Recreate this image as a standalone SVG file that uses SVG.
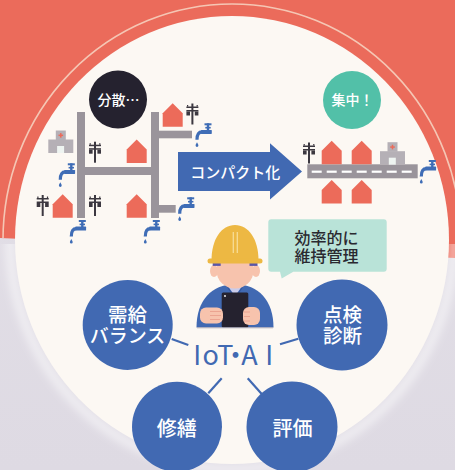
<svg xmlns="http://www.w3.org/2000/svg" width="455" height="470" viewBox="0 0 455 470">
  <defs>
    <style>
      .road{fill:#9A949B}
      .house{fill:#EC6B5A}
      .tap{fill:#3F6DB6}
      .pole{fill:#3C3840}
      .disc{fill:#4169B2}
      .skin{fill:#F7C3AD}
      .jp{font-family:"Noto Sans CJK JP","Noto Sans",sans-serif}
      .white{fill:#FFFFFF;text-anchor:middle}
      .link{stroke:#4169B2;stroke-width:2.2;fill:none}
    </style>
    <path id="house" d="M0,10 L10,0 L20,10 V23.5 H0 Z"/>
    <g id="pole">
      <rect x="-1" y="0" width="2" height="21"/>
      <rect x="-6" y="3" width="12" height="1.5"/>
      <rect x="-6" y="6.5" width="12" height="1.5"/>
      <rect x="-6" y="8" width="3.6" height="4"/>
      <rect x="2.4" y="8" width="3.6" height="4"/>
      <rect x="-5.4" y="1.5" width="1.2" height="1.6"/>
      <rect x="4.2" y="1.5" width="1.2" height="1.6"/>
    </g>
    <g id="tap">
      <rect x="9.5" y="0" width="7" height="2"/>
      <rect x="11.8" y="0" width="2.4" height="8"/>
      <rect x="10.3" y="3.6" width="5.4" height="1.6"/>
      <rect x="6" y="6.6" width="10.8" height="4" rx="0.6"/>
      <path d="M7,8.6 C3.5,8.6 2,11 2,16.5" fill="none" stroke="#3F6DB6" stroke-width="3.2"/>
      <path d="M2,19 C2.7,20.5 3.4,21.2 3.4,22.2 A1.4,1.4 0 0 1 0.6,22.2 C0.6,21.2 1.3,20.5 2,19 Z"/>
    </g>
    <g id="hospital">
      <rect x="7.5" y="0" width="10" height="9.5" fill="#B5B0B6"/>
      <rect x="0" y="9" width="25" height="13.5" fill="#B5B0B6"/>
      <rect x="8.8" y="15.5" width="7" height="7" fill="#EEF4F1"/>
      <rect x="10.2" y="4.1" width="4.6" height="1.5" fill="#EC6B5A"/>
      <rect x="11.75" y="2.55" width="1.5" height="4.6" fill="#EC6B5A"/>
    </g>
    <linearGradient id="floor" x1="0" y1="0" x2="0" y2="1">
      <stop offset="0" stop-color="#E4E1E8"/>
      <stop offset="1" stop-color="#DEDAE3"/>
    </linearGradient>
    <filter id="soft" x="-20%" y="-20%" width="140%" height="140%">
      <feGaussianBlur stdDeviation="4"/>
    </filter>
    <clipPath id="lower"><rect x="0" y="244" width="455" height="226"/></clipPath>
    <clipPath id="upper"><path d="M0,0 H455 V258 L0,238 Z"/></clipPath>
  </defs>

  <!-- backdrop: coral sky and pale floor -->
  <rect width="455" height="470" fill="url(#floor)"/>
  <path d="M0,0 H455 V258 L0,238 Z" fill="#EB6B5B"/>
  <ellipse cx="232" cy="240" rx="229" ry="236" fill="none" stroke="#F5C6B4" stroke-width="1.6" clip-path="url(#upper)"/>
  <ellipse cx="232" cy="240" rx="222" ry="229" fill="none" stroke="#FFFFFF" stroke-opacity="0.55" stroke-width="9" filter="url(#soft)" clip-path="url(#lower)"/>
  <ellipse cx="232" cy="240" rx="217" ry="224" fill="#FCF8F3"/>

  <!-- scattered town -->
  <g id="town-scattered">
    <rect class="road" x="77" y="112" width="8" height="106"/>
    <rect class="road" x="151" y="112" width="8" height="106"/>
    <rect class="road" x="85" y="167" width="66" height="8"/>
    <rect class="road" x="159" y="130.7" width="33" height="7.6"/>
    <rect class="road" x="159" y="205" width="16.7" height="7.7"/>
    <use href="#house" class="house" x="162.7" y="103.3"/>
    <use href="#house" class="house" x="126.7" y="139.5"/>
    <use href="#house" class="house" x="52.7" y="194.2"/>
    <use href="#house" class="house" x="126.7" y="194.2"/>
    <use href="#hospital" x="48.3" y="130.5"/>
    <use href="#pole" class="pole" x="95" y="141.7"/>
    <use href="#pole" class="pole" x="192.4" y="103.5"/>
    <use href="#pole" class="pole" x="42.7" y="195"/>
    <use href="#pole" class="pole" x="95" y="195"/>
    <use href="#tap" class="tap" x="58.3" y="163.3"/>
    <use href="#tap" class="tap" x="195" y="123.3"/>
    <use href="#tap" class="tap" x="69.3" y="220"/>
    <use href="#tap" class="tap" x="143.3" y="220"/>
    <use href="#tap" class="tap" x="177.7" y="197.3"/>
  </g>

  <g id="tag-scattered">
    <circle cx="118" cy="99.5" r="29" fill="#25222F"/>
    <text class="jp white" x="118.5" y="105" font-size="14" font-weight="500">分散…</text>
  </g>

  <g id="tag-compact">
    <circle cx="352" cy="100" r="29" fill="#52C0A8"/>
    <text class="jp white" x="352.5" y="105" font-size="14" font-weight="500">集中！</text>
  </g>

  <!-- compaction arrow -->
  <g id="arrow-compact">
    <path d="M178,152 H270 V143.3 L302,171.5 L270,199.5 V191 H178 Z" fill="#4169B2"/>
    <text class="jp white" x="235.3" y="177.5" font-size="15" font-weight="500">コンパクト化</text>
  </g>

  <!-- compact town -->
  <g id="town-compact">
    <rect class="road" x="307.3" y="164.3" width="110.4" height="14"/>
    <g fill="#FFFFFF">
      <rect x="311.7" y="170.6" width="10" height="2.2"/>
      <rect x="326.7" y="170.6" width="10" height="2.2"/>
      <rect x="341.7" y="170.6" width="10" height="2.2"/>
      <rect x="356.7" y="170.6" width="10" height="2.2"/>
      <rect x="371.7" y="170.6" width="10" height="2.2"/>
      <rect x="386.7" y="170.6" width="10" height="2.2"/>
      <rect x="401.7" y="170.6" width="10" height="2.2"/>
    </g>
    <use href="#house" class="house" x="321.7" y="140.8"/>
    <use href="#house" class="house" x="351.7" y="140.8"/>
    <use href="#house" class="house" x="321.7" y="180"/>
    <use href="#house" class="house" x="351.7" y="180"/>
    <use href="#hospital" x="380" y="142.2"/>
    <use href="#pole" class="pole" x="309" y="142.5"/>
    <use href="#tap" class="tap" x="419.3" y="160"/>
  </g>

  <!-- speech bubble -->
  <g id="bubble">
    <path d="M271.3,219.3 H383.7 Q386.7,219.3 386.7,222.3 V268.7 Q386.7,271.7 383.7,271.7 H293.3 L281.7,278.5 L280,271.7 H271.3 Q268.3,271.7 268.3,268.7 V222.3 Q268.3,219.3 271.3,219.3 Z" fill="#B9E3D8"/>
    <text class="jp" x="294.5" y="244" font-size="16" font-weight="500" fill="#2A2930">効率的に</text>
    <text class="jp" x="294.5" y="262" font-size="16" font-weight="500" fill="#2A2930">維持管理</text>
  </g>

  <!-- worker with tablet -->
  <g id="worker">
    <path d="M196.5,327.5 C196.5,301 211,284.5 235,284 C259,284.5 273.5,301 273.5,327.5 Z" fill="#4169B2"/>
    <rect x="229" y="278" width="12" height="10" fill="#F2B8A2"/>
    <path d="M227,285 L235,296 L243,285 Z" fill="#C9CBEA"/>
    <path d="M226,284.5 L232,294 M244,284.5 L238,294" stroke="#36579E" stroke-width="1.2" fill="none"/>
    <ellipse class="skin" cx="214" cy="271" rx="4" ry="6"/>
    <ellipse class="skin" cx="256" cy="271" rx="4" ry="6"/>
    <ellipse class="skin" cx="235" cy="270.5" rx="18.5" ry="18"/>
    <rect x="212.7" y="262.3" width="8" height="3.6" fill="#5A56A8"/>
    <rect x="249.5" y="262.3" width="8" height="3.6" fill="#5A56A8"/>
    <path d="M211.5,260.5 C211.5,239 221.5,225 235,225 C248.5,225 258.5,239 258.5,260.5 Z" fill="#EDB843"/>
    <rect x="207.5" y="258.5" width="55" height="5" rx="2.5" fill="#EDB843"/>
    <path d="M233.3,232 V253 M237.3,232 V253" stroke="#F7DC95" stroke-width="1.3"/>
    <rect x="221.7" y="292.5" width="26.6" height="35" rx="1.5" fill="#25222F"/>
    <circle cx="225" cy="296" r="0.9" fill="#FFFFFF"/>
    <rect class="skin" x="200" y="307.5" width="23" height="16" rx="6"/>
    <path d="M210,311.5 H221 M210,315.5 H221 M210,319.5 H220" stroke="#E79C8A" stroke-width="0.8" fill="none"/>
    <rect class="skin" x="243" y="307" width="17" height="18" rx="6"/>
    <path d="M244,312 H250 M244,316.5 H250 M244,321 H250" stroke="#E79C8A" stroke-width="0.8" fill="none"/>
    <path d="M197,327.8 H273" stroke="#B3AEB8" stroke-width="1"/>
  </g>

  <!-- connectors -->
  <g id="connectors">
    <path class="link" d="M171.7,339 L188.3,345"/>
    <path class="link" d="M280,344.3 L298.3,338.7"/>
    <path class="link" d="M221.7,378.3 L208.3,393.3"/>
    <path class="link" d="M247.7,378.3 L261.7,394"/>
  </g>

  <g id="hub">
    <text class="jp" x="193.3 202.5 217.2 222 241.3 265.3" y="365" font-size="27" fill="#4169B2">IoT・AI</text>
  </g>

  <g id="node-balance">
    <circle class="disc" cx="127.7" cy="325" r="45"/>
    <text class="jp white" x="127.5" y="322" font-size="19.5" font-weight="500">需給</text>
    <text class="jp white" x="127.5" y="343" font-size="19" font-weight="500">バランス</text>
  </g>
  <g id="node-inspect">
    <circle class="disc" cx="342" cy="325" r="45.5"/>
    <text class="jp white" x="342.5" y="322" font-size="19.5" font-weight="500">点検</text>
    <text class="jp white" x="342.5" y="343" font-size="19.5" font-weight="500">診断</text>
  </g>
  <g id="node-repair">
    <circle class="disc" cx="177" cy="426.7" r="45"/>
    <text class="jp white" x="176.7" y="435.5" font-size="20" font-weight="500">修繕</text>
  </g>
  <g id="node-evaluate">
    <circle class="disc" cx="292" cy="427" r="45.5"/>
    <text class="jp white" x="292.5" y="435.5" font-size="20" font-weight="500">評価</text>
  </g>
</svg>
